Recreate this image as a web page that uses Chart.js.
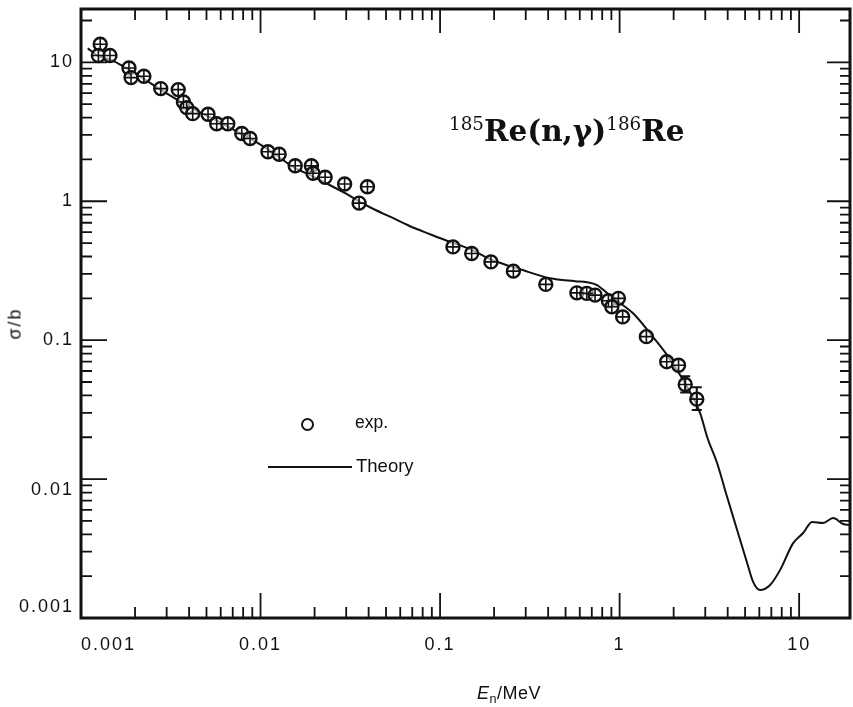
<!DOCTYPE html>
<html>
<head>
<meta charset="utf-8">
<script src="https://cdn.jsdelivr.net/npm/chart.js@4.4.0/dist/chart.umd.min.js"></script>
<style>
    html, body { margin: 0; padding: 0; background: #fff; }
    #wrap { position: relative; width: 853px; height: 707px; overflow: hidden; }
    #plot { position: absolute; left: 0; top: 0; }
    .txt { position: absolute; white-space: nowrap; color: #111; font-family: "Liberation Sans", Arial, sans-serif; }
    #title { left: 449px; top: 113px; font: bold 29.5px "DejaVu Serif", serif; }
    #title sup { font-size: 0.62em; font-weight: normal; vertical-align: 0.62em; line-height: 0; }
    #ytitle { left: -1px; top: 313px; font-size: 18px; transform: rotate(-90deg); letter-spacing: 2px; }
    #xtitle { left: 477px; top: 683px; font-size: 18px; letter-spacing: 0.5px; }
    #xtitle sub { font-size: 0.7em; vertical-align: -0.3em; line-height: 0; }
    .dot { position: absolute; left: 301px; top: 418px; width: 9px; height: 9px; border: 2.6px solid #111; border-radius: 50%; }
    .dash { position: absolute; left: 268px; top: 466px; width: 84px; height: 2.4px; background: #111; }
    #lexp { left: 355px; top: 412px; font-size: 17.5px; }
    #lthe { left: 356px; top: 455px; font-size: 18.5px; }
</style>
</head>
<body>
<div id="wrap">
    <canvas id="plot" width="853" height="707"></canvas>
    <div class="txt" id="title"><sup>185</sup>Re(n,γ)<sup>186</sup>Re</div>
    <div class="txt" id="ytitle">σ/b</div>
    <div class="txt" id="xtitle"><i>E</i><sub>n</sub>/MeV</div>
    <div class="dot"></div>
    <div class="txt" id="lexp">exp.</div>
    <div class="dash"></div>
    <div class="txt" id="lthe">Theory</div>
</div>
<script>

// measured capture cross sections (MeV, barn)
const expEnergy = [0.00128, 0.00125, 0.00145, 0.00185, 0.00190, 0.00224, 0.00278, 0.00348, 0.00372, 0.00388,
    0.00419, 0.00510, 0.00570, 0.00657, 0.00786, 0.00874, 0.0110, 0.0127, 0.0156, 0.0192,
    0.0196, 0.0229, 0.0294, 0.0394, 0.0354, 0.118, 0.150, 0.192, 0.256, 0.388,
    0.578, 0.656, 0.730, 0.866, 0.985, 0.905, 1.04, 1.41, 1.83, 2.13, 2.32, 2.69];
const expSigma = [13.5, 11.2, 11.2, 9.1, 7.76, 7.93, 6.47, 6.36, 5.18, 4.72,
    4.27, 4.23, 3.61, 3.61, 3.07, 2.83, 2.27, 2.18, 1.80, 1.80,
    1.59, 1.49, 1.33, 1.27, 0.97, 0.469, 0.421, 0.366, 0.314, 0.252,
    0.219, 0.217, 0.211, 0.192, 0.200, 0.174, 0.147, 0.106, 0.070, 0.066, 0.048, 0.0376];
// error bars that stick out of the circle (null = hidden inside it)
const expSigmaLow = [null, null, null, null, null, null, null, null, null, null,
    null, null, null, null, null, null, null, null, null, null,
    null, null, null, null, null, null, null, null, null, null,
    null, null, null, null, null, null, null, null, null, null, 0.042, 0.0314];
const expSigmaHigh = [null, null, null, null, null, null, null, null, null, null,
    null, null, null, null, null, null, null, null, null, null,
    null, null, null, null, null, null, null, null, null, null,
    null, null, null, null, null, null, null, null, null, null, 0.055, 0.0459];

// calculated curve
const theoryEnergy = [0.00109, 0.00123, 0.00149, 0.00176, 0.00213, 0.00276, 0.00356, 0.00460, 0.00595, 0.00769,
    0.00994, 0.0124, 0.0152, 0.0189, 0.0238, 0.0296, 0.0358, 0.0407, 0.0526, 0.0681,
    0.0880, 0.109, 0.147, 0.197, 0.279, 0.410, 0.565, 0.659, 0.749, 0.852,
    1.007, 1.189, 1.537, 1.839, 2.258, 2.809, 3.073, 3.494, 3.972, 4.514,
    5.133, 5.542, 6.063, 6.893, 7.838, 9.26, 10.53, 11.81, 13.60, 15.46, 17.59, 19.2];
const theorySigma = [12.6, 11.23, 10.34, 9.20, 7.93, 6.39, 5.24, 4.37, 3.70, 3.08,
    2.57, 2.125, 1.765, 1.539, 1.325, 1.142, 0.989, 0.905, 0.774, 0.661,
    0.579, 0.520, 0.452, 0.376, 0.324, 0.279, 0.266, 0.261, 0.249, 0.218,
    0.185, 0.156, 0.105, 0.078, 0.0516, 0.0298, 0.0201, 0.0130, 0.00742, 0.00430,
    0.00249, 0.00182, 0.00159, 0.00173, 0.00222, 0.00346, 0.00409, 0.00491, 0.00483, 0.00524, 0.00475, 0.00467];

// axes
const xRange = [0.001, 19.2];
const yRange = [0.001, 24.2];
const xMajor = [0.001, 0.01, 0.1, 1, 10];
const xTickLabels = ["0.001", "0.01", "0.1", "1", "10"];
const yMajor = [0.001, 0.01, 0.1, 1, 10];
const yTickLabels = ["0.001", "0.01", "0.1", "1", "10"];


function logTicks(min, max) {
    const out = [];
    for (let d = Math.floor(Math.log10(min)); d <= Math.ceil(Math.log10(max)); d++) {
        for (let m = 1; m <= 9; m++) {
            const v = Number((m * Math.pow(10, d)).toPrecision(3));
            if (v >= min * 0.999 && v <= max * 1.001) out.push({ value: v, major: m === 1 });
        }
    }
    return out;
}

function pairs(xs, ys) {
    return xs.map((x, i) => ({ x: x, y: ys[i] }));
}

// no extra room for overhanging labels, the frame sits where the axes say
function noOverhang(s) {
    s.paddingLeft = 0;
    s.paddingRight = 0;
    s.paddingTop = 0;
    s.paddingBottom = 0;
}

// inward ticks on all four sides plus the heavy frame
const frameTicks = {
    id: "frameTicks",
    beforeDraw(chart) {
        chart.ctx.letterSpacing = "2px";
    },
    afterDatasetsDraw(chart) {

        const { ctx, chartArea: a, scales: { x, y } } = chart;

        ctx.save();
        ctx.strokeStyle = "#111";
        ctx.lineWidth = 1.8;
        ctx.beginPath();

        logTicks(xRange[0], xRange[1]).forEach(t => {
            const px = x.getPixelForValue(t.value);
            ctx.moveTo(px, a.bottom); ctx.lineTo(px, a.bottom - (t.major ? 25 : 11));
            ctx.moveTo(px, a.top); ctx.lineTo(px, a.top + (t.major ? 24 : 11));
        });

        logTicks(yRange[0], yRange[1]).forEach(t => {
            const py = y.getPixelForValue(t.value);
            ctx.moveTo(a.left, py); ctx.lineTo(a.left + (t.major ? 26 : 11), py);
            ctx.moveTo(a.right, py); ctx.lineTo(a.right - (t.major ? 23 : 10), py);
        });

        ctx.stroke();

        // error bars
        ctx.lineWidth = 2;
        ctx.beginPath();
        expEnergy.forEach((e, i) => {
            if (expSigmaLow[i] == null) return;
            const px = x.getPixelForValue(e);
            const lo = y.getPixelForValue(expSigmaLow[i]);
            const hi = y.getPixelForValue(expSigmaHigh[i]);
            ctx.moveTo(px, lo); ctx.lineTo(px, hi);
            ctx.moveTo(px - 5, lo); ctx.lineTo(px + 5, lo);
            ctx.moveTo(px - 5, hi); ctx.lineTo(px + 5, hi);
        });
        ctx.stroke();

        ctx.lineWidth = 3;
        ctx.strokeRect(a.left, a.top, a.right - a.left, a.bottom - a.top);
        ctx.restore();

    }
};

new Chart(document.getElementById("plot"), {
    type: "scatter",
    data: {
        datasets: [
            {
                label: "exp.",
                data: pairs(expEnergy, expSigma),
                pointStyle: "circle",
                pointRadius: 6.5,
                borderWidth: 2.4,
                borderColor: "#111",
                backgroundColor: "rgba(255,255,255,0.6)",
                order: 1
            },
            {
                label: "exp. bars",
                data: pairs(expEnergy, expSigma),
                pointStyle: "cross",
                pointRadius: 6,
                borderWidth: 1.6,
                borderColor: "#111",
                order: 0
            },
            {
                label: "Theory",
                data: pairs(theoryEnergy, theorySigma),
                showLine: true,
                pointRadius: 0,
                borderColor: "#111",
                borderWidth: 2,
                cubicInterpolationMode: "monotone",
                order: 2
            }
        ]
    },
    options: {
        responsive: false,
        animation: false,
        devicePixelRatio: 1,
        layout: { autoPadding: false, padding: { left: 0, top: 9, right: 3, bottom: 0 } },
        plugins: {
            legend: { display: false },
            tooltip: { enabled: false }
        },
        scales: {
            x: {
                type: "logarithmic",
                min: xRange[0],
                max: xRange[1],
                grid: { display: false, drawTicks: false },
                border: { display: false },
                afterBuildTicks: s => {
                    s.ticks = logTicks(xRange[0], 10).concat([{ value: xRange[1] }]);
                },
                afterFit: s => { s.height = 89; noOverhang(s); },
                ticks: {
                    autoSkip: false,
                    maxRotation: 0,
                    align: "inner",
                    padding: 16,
                    color: "#111",
                    font: { family: "'Liberation Sans', Arial, sans-serif", size: 18 },
                    callback: v => {
                        const i = xMajor.indexOf(v);
                        return i < 0 ? "" : xTickLabels[i];
                    }
                }
            },
            y: {
                type: "logarithmic",
                min: yRange[0],
                max: yRange[1],
                grid: { display: false, drawTicks: false },
                border: { display: false },
                afterBuildTicks: s => {
                    s.ticks = logTicks(yRange[0], yRange[1]);
                },
                afterFit: s => { s.width = 81; noOverhang(s); },
                ticks: {
                    autoSkip: false,
                    padding: 7,
                    color: "#111",
                    font: { family: "'Liberation Sans', Arial, sans-serif", size: 18 },
                    callback: v => {
                        const i = yMajor.indexOf(v);
                        if (i < 0) return "";
                        // bottom label sits above its tick, 0.01 a little below
                        if (i === 0) return [yTickLabels[i], ""];
                        if (i === 1) return ["", yTickLabels[i]];
                        return yTickLabels[i];
                    }
                }
            }
        }
    },
    plugins: [frameTicks]
});

</script>
</body>
</html>
